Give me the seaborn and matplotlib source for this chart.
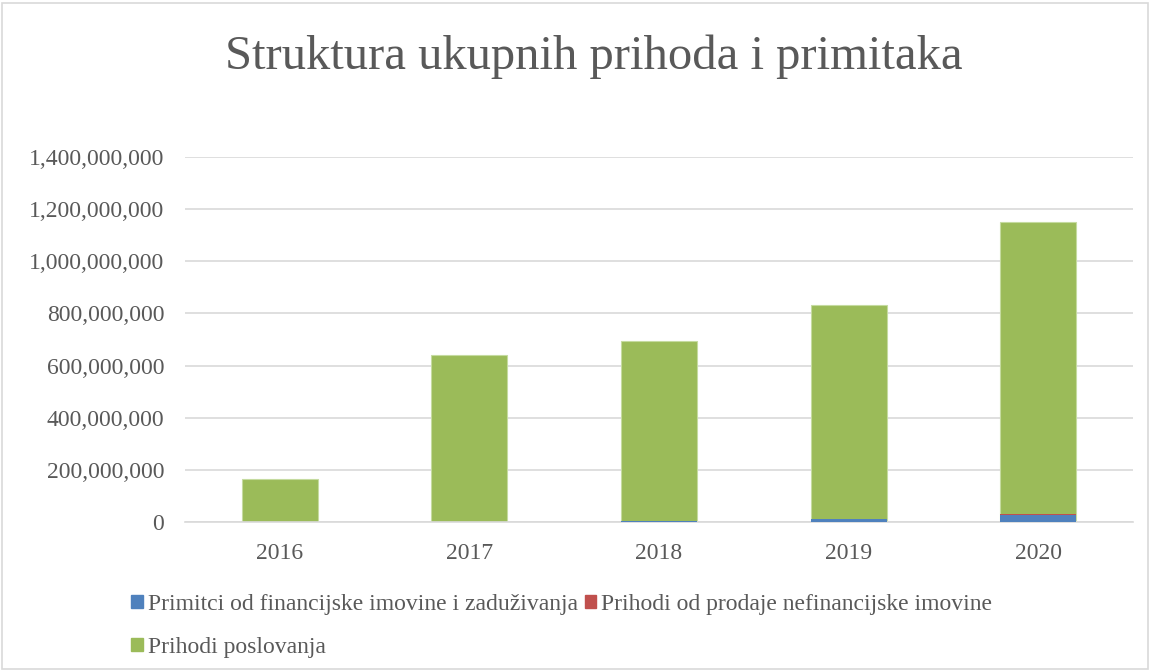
import pandas as pd
import numpy as np
import matplotlib
matplotlib.use('Agg')
import matplotlib.pyplot as plt
import matplotlib.ticker as mticker
from matplotlib.patches import Patch, Rectangle
import seaborn as sns

years = ["2016", "2017", "2018", "2019", "2020"]
primitci = [500000, 800000, 2000000, 10000000, 28000000]
prodaja = [300000, 300000, 500000, 1500000, 4000000]
poslovanje = [164000000, 640000000, 690500000, 819500000, 1117000000]

labels = ["Primitci od financijske imovine i zaduživanja",
          "Prihodi od prodaje nefinancijske imovine",
          "Prihodi poslovanja"]
colors = ["#4F81BD", "#C0504D", "#9BBB59"]

df = pd.DataFrame({"year": years, "primitci": primitci,
                   "prodaja": prodaja, "poslovanje": poslovanje})
df["cum_red"] = df["primitci"] + df["prodaja"]
df["cum_green"] = df["cum_red"] + df["poslovanje"]

sns.set_style("white")
plt.rcParams['font.family'] = ['Liberation Serif', 'DejaVu Serif']
txt = "#595959"
fs = 17

fig = plt.figure(figsize=(11.52, 6.71), dpi=100)
ax = fig.add_axes([185 / 1152, 1 - 522 / 671, 948 / 1152, 365 / 671])

# stacked by overdrawing cumulative totals
sns.barplot(data=df, x="year", y="cum_green", color=colors[2], width=0.4,
            saturation=1, ax=ax, edgecolor="#C5DBA0", linewidth=0.8, zorder=2)
sns.barplot(data=df, x="year", y="cum_red", color=colors[1], width=0.4,
            saturation=1, ax=ax, linewidth=0, zorder=3)
sns.barplot(data=df, x="year", y="primitci", color=colors[0], width=0.4,
            saturation=1, ax=ax, linewidth=0, zorder=4)

ax.set_ylim(0, 1400000000)
ax.set_xlim(-0.5, 4.5)
ax.yaxis.set_major_locator(mticker.MultipleLocator(200000000))
ax.yaxis.set_major_formatter(mticker.FuncFormatter(lambda v, p: f"{int(v):,}"))
ax.grid(axis="y", color="#D9D9D9", linewidth=1.2, zorder=0)
ax.set_axisbelow(True)
for s in ["top", "right", "left"]:
    ax.spines[s].set_visible(False)
ax.spines["bottom"].set_color("#D9D9D9")
ax.spines["bottom"].set_linewidth(1.2)
ax.tick_params(axis="both", length=0, labelsize=fs, labelcolor=txt)
ax.tick_params(axis="y", pad=15)
ax.tick_params(axis="x", pad=15)
ax.set_xlabel("")
ax.set_ylabel("")

fig.text(594 / 1152, 1 - 57 / 671, "Struktura ukupnih prihoda i primitaka",
         ha="center", va="center", fontsize=35, color=txt)

handles = [Patch(color=colors[0], label=labels[0]),
           Patch(color=colors[2], label=labels[2]),
           Patch(color=colors[1], label=labels[1])]
fig.legend(handles=handles, ncol=2, loc="upper left",
           bbox_to_anchor=(131 / 1152, 1 - 594 / 671), frameon=False,
           fontsize=fs, labelcolor=txt, handlelength=0.5, handleheight=0.5,
           handletextpad=0.2, columnspacing=0.3, labelspacing=0.92,
           borderaxespad=0, borderpad=0)

fig.patches.append(Rectangle((2 / 1152, 2 / 671), 1146 / 1152, 666 / 671,
                             transform=fig.transFigure, fill=False,
                             edgecolor="#D9D9D9", linewidth=1.2))

plt.savefig("out.png", dpi=100)
